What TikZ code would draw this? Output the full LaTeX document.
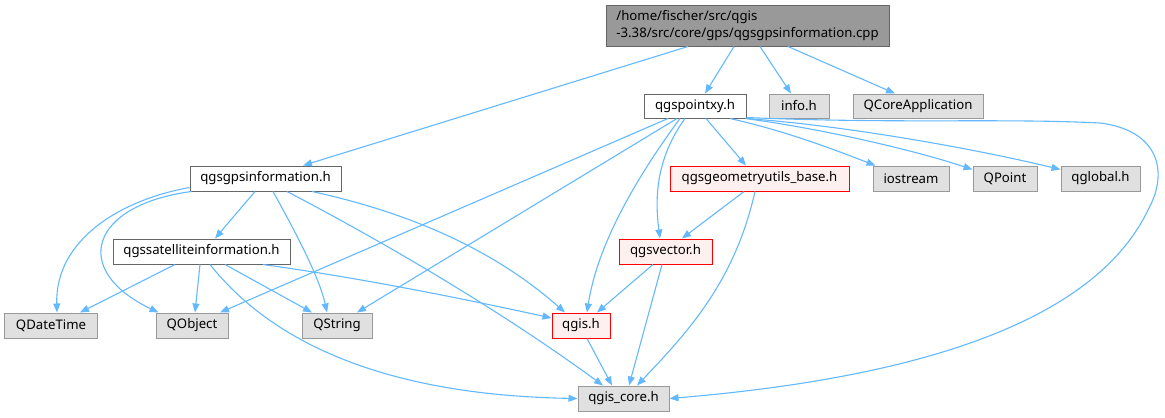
\documentclass[tikz,border=0pt]{standalone}
\usepackage{fontspec}
\setmainfont{Noto Sans}
\usetikzlibrary{arrows.meta}
\definecolor{edgec}{HTML}{63B8FF}
\definecolor{grayfill}{HTML}{E0E0E0}
\definecolor{grayline}{HTML}{999999}
\definecolor{darkline}{HTML}{666666}
\definecolor{redfill}{HTML}{FFF0F0}
\definecolor{rootfill}{HTML}{999999}
\begin{document}
\begin{tikzpicture}[x=1bp,y=-1bp,
  box/.style={draw, line width=1bp, inner sep=0pt, minimum height=25bp,
    font=\fontsize{13.2bp}{16.5bp}\selectfont},
  extbox/.style={box, fill=grayfill, draw=grayline},
  locbox/.style={box, fill=white, draw=darkline},
  redbox/.style={box, fill=redfill, draw=red},
  rootbox/.style={box, fill=rootfill, draw=darkline, align=left},
  edge/.style={draw=edgec, line width=1.1bp, -{Triangle[length=9bp,width=7bp]}}
]
\useasboundingbox (0,0) rectangle (1165,417);

% nodes
\node[rootbox, minimum width=283bp, minimum height=41bp] (root) at (747.5,25.5)
  {/home/fischer/src/qgis\\-3.38/src/core/gps/qgsgpsinformation.cpp};
\node[locbox, minimum width=102bp, minimum height=24bp] (pxy) at (695,106) {qgspointxy.h};
\node[extbox, minimum width=60bp, minimum height=24bp] (info) at (799,106) {info.h};
\node[extbox, minimum width=130bp, minimum height=24bp] (qcore) at (918,106) {QCoreApplication};
\node[locbox, minimum width=151bp] (gps) at (265.5,178.5) {qgsgpsinformation.h};
\node[redbox, minimum width=179bp] (geo) at (759.5,178.5) {qgsgeometryutils\_base.h};
\node[extbox, minimum width=76bp] (ios) at (911,178.5) {iostream};
\node[extbox, minimum width=64bp] (qpoint) at (1005,178.5) {QPoint};
\node[extbox, minimum width=79bp] (qglobal) at (1100.5,178.5) {qglobal.h};
\node[locbox, minimum width=177bp] (sat) at (201.5,251.5) {qgssatelliteinformation.h};
\node[redbox, minimum width=93bp] (vec) at (665.5,251.5) {qgsvector.h};
\node[extbox, minimum width=92bp] (qdt) at (51,325.5) {QDateTime};
\node[extbox, minimum width=72bp] (qobj) at (192,325.5) {QObject};
\node[extbox, minimum width=70bp] (qstr) at (337,325.5) {QString};
\node[redbox, minimum width=58bp] (qgis) at (581,325.5) {qgis.h};
\node[extbox, minimum width=91bp] (core) at (623.5,398.5) {qgis\_core.h};

% root edges
\draw[edge] ([xshift=-59.5bp]root.south) -- ([xshift=37.5bp]gps.north);
\draw[edge] ([xshift=-13.5bp]root.south) -- ([xshift=10bp]pxy.north);
\draw[edge] ([xshift=12.5bp]root.south) -- ([xshift=-8bp]info.north);
\draw[edge] ([xshift=40.5bp]root.south) -- ([xshift=-23bp]qcore.north);

% qgspointxy edges
\draw[edge] ([xshift=11bp]pxy.south) -- ([xshift=-13.5bp]geo.north);
\draw[edge] ([xshift=35bp]pxy.south) .. controls (790,132) and (840,152) .. ([xshift=3bp]ios.north west);
\draw[edge] ([xshift=-1bp]pxy.south east) .. controls (830,130) and (920,152) .. ([yshift=-4bp]qpoint.north west);
\draw[edge] (pxy.south east) .. controls (850,126) and (980,150) .. ([yshift=-4bp]qglobal.north west);
\draw[edge] ([yshift=1bp]pxy.south east) .. controls (900,124) and (1000,118) .. (1100,123)
   .. controls (1157,130) and (1170,170) .. (1148,210)
   .. controls (1100,310) and (950,375) .. (core.east);
\draw[edge] ([xshift=-10bp]pxy.south) .. controls (655,160) and (655,200) .. ([xshift=-5.5bp]vec.north);
\draw[edge] ([xshift=-15bp]pxy.south) .. controls (620,200) and (595,260) .. ([xshift=6bp]qgis.north);
\draw[edge] ([xshift=-18bp]pxy.south) -- ([xshift=20bp]qstr.north);
\draw[edge] ([xshift=-27bp]pxy.south) -- ([xshift=28bp]qobj.north);

% qgsgpsinformation edges
\draw[edge] ([xshift=-10.5bp]gps.south) -- ([xshift=13.5bp]sat.north);
\draw[edge] ([yshift=4bp]gps.south west) .. controls (120,200) and (55,240) .. ([xshift=6bp]qdt.north);
\draw[edge] ([xshift=2bp]gps.south west) .. controls (90,205) and (70,270) .. ([xshift=3bp]qobj.north west);
\draw[edge] ([xshift=7.5bp]gps.south) .. controls (300,240) and (320,280) .. ([xshift=-10bp]qstr.north);
\draw[edge] ([xshift=46.5bp]gps.south) .. controls (420,215) and (500,255) .. ([xshift=-16bp]qgis.north);
\draw[edge] ([xshift=21.5bp]gps.south) .. controls (380,240) and (500,310) .. ([xshift=-20.5bp]core.north);

% qgssatelliteinformation edges
\draw[edge] ([xshift=-26.5bp]sat.south) -- ([xshift=29bp]qdt.north);
\draw[edge] ([xshift=-1.5bp]sat.south) -- ([xshift=3bp]qobj.north);
\draw[edge] ([xshift=23.5bp]sat.south) -- ([xshift=-25bp]qstr.north);
\draw[edge] ([xshift=61.5bp]sat.south) .. controls (360,278) and (460,298) .. ([yshift=7.5bp]qgis.west);
\draw[edge] ([xshift=8.5bp]sat.south) .. controls (270,340) and (380,395) .. (core.west);

% qgsgeometryutils_base edges
\draw[edge] ([xshift=-15.5bp]geo.south) -- ([xshift=16.5bp]vec.north);
\draw[edge] ([xshift=-4.5bp]geo.south) .. controls (735,280) and (690,330) .. ([xshift=13.5bp]core.north);

% qgsvector edges
\draw[edge] ([xshift=-12.5bp]vec.south) -- ([xshift=16bp]qgis.north);
\draw[edge] ([xshift=-3.5bp]vec.south) -- ([xshift=5.5bp]core.north);

% qgis edge
\draw[edge] ([xshift=6bp]qgis.south) -- ([xshift=-11.5bp]core.north);
\end{tikzpicture}
\end{document}
